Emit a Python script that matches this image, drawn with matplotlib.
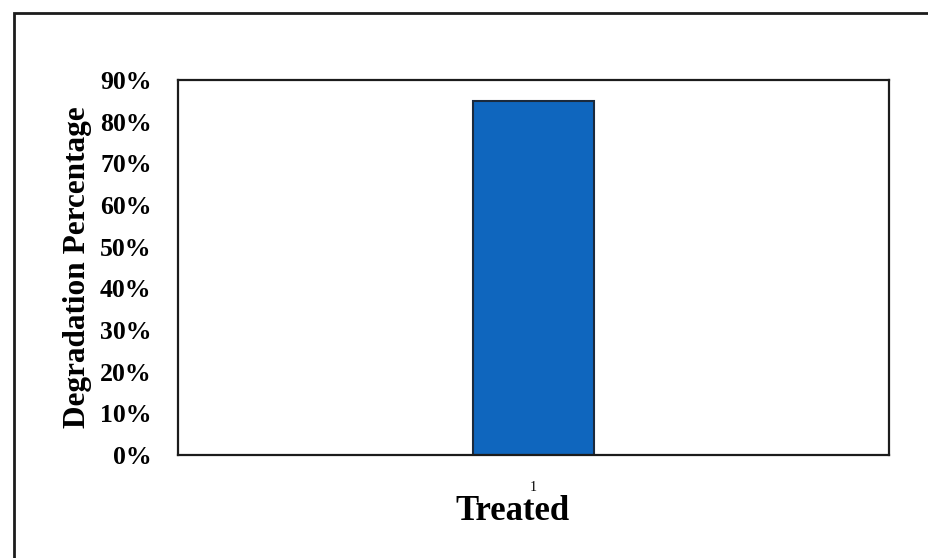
import matplotlib
matplotlib.use("Agg")
import matplotlib.pyplot as plt
from matplotlib.patches import Rectangle
from matplotlib.ticker import PercentFormatter, MultipleLocator

categories = ["1"]
degradation = [0.85]
x_label = "Treated"
y_label = "Degradation Percentage"

plt.rcParams["font.family"] = ["Liberation Serif", "DejaVu Serif"]

fig = plt.figure(figsize=(9.29, 5.58), dpi=100)
fig.patch.set_facecolor("white")

# outer chart-area border
fig.patches.append(Rectangle((14 / 929, -0.1), 1.0, 1 - 13.5 / 558 + 0.1,
                             transform=fig.transFigure, fill=False,
                             edgecolor="#1c1c1c", linewidth=2.0))

ax = fig.add_axes([178 / 929, 1 - 455 / 558, (889 - 178) / 929, (455 - 80) / 558])
ax.bar(range(len(categories)), degradation, width=0.17,
       color="#0F66BE", edgecolor="#1b2a3d", linewidth=1.5)
ax.set_xlim(-0.5, 0.5)
ax.set_ylim(0, 0.9)
ax.yaxis.set_major_locator(MultipleLocator(0.1))
ax.yaxis.set_major_formatter(PercentFormatter(1.0, decimals=0))
ax.set_xticks(range(len(categories)))
ax.set_xticklabels(categories)

for s in ax.spines.values():
    s.set_linewidth(1.6)
    s.set_color("#1c1c1c")

ax.tick_params(axis="y", length=0, pad=19, labelsize=18.5)
ax.tick_params(axis="x", length=0, pad=19, labelsize=10)
for t in ax.get_yticklabels():
    t.set_fontweight("bold")

ax.set_xlabel(x_label, fontsize=25, fontweight="bold")
ax.xaxis.set_label_coords((513 - 178) / 711, -(511 - 455) / 375)
ax.xaxis.label.set_va("center")
ax.set_ylabel(y_label, fontsize=22.5, fontweight="bold")
ax.yaxis.set_label_coords(-(178 - 78) / 711, (455 - 267) / 375)
ax.yaxis.label.set_va("center")

fig.savefig("out.png", dpi=100)
